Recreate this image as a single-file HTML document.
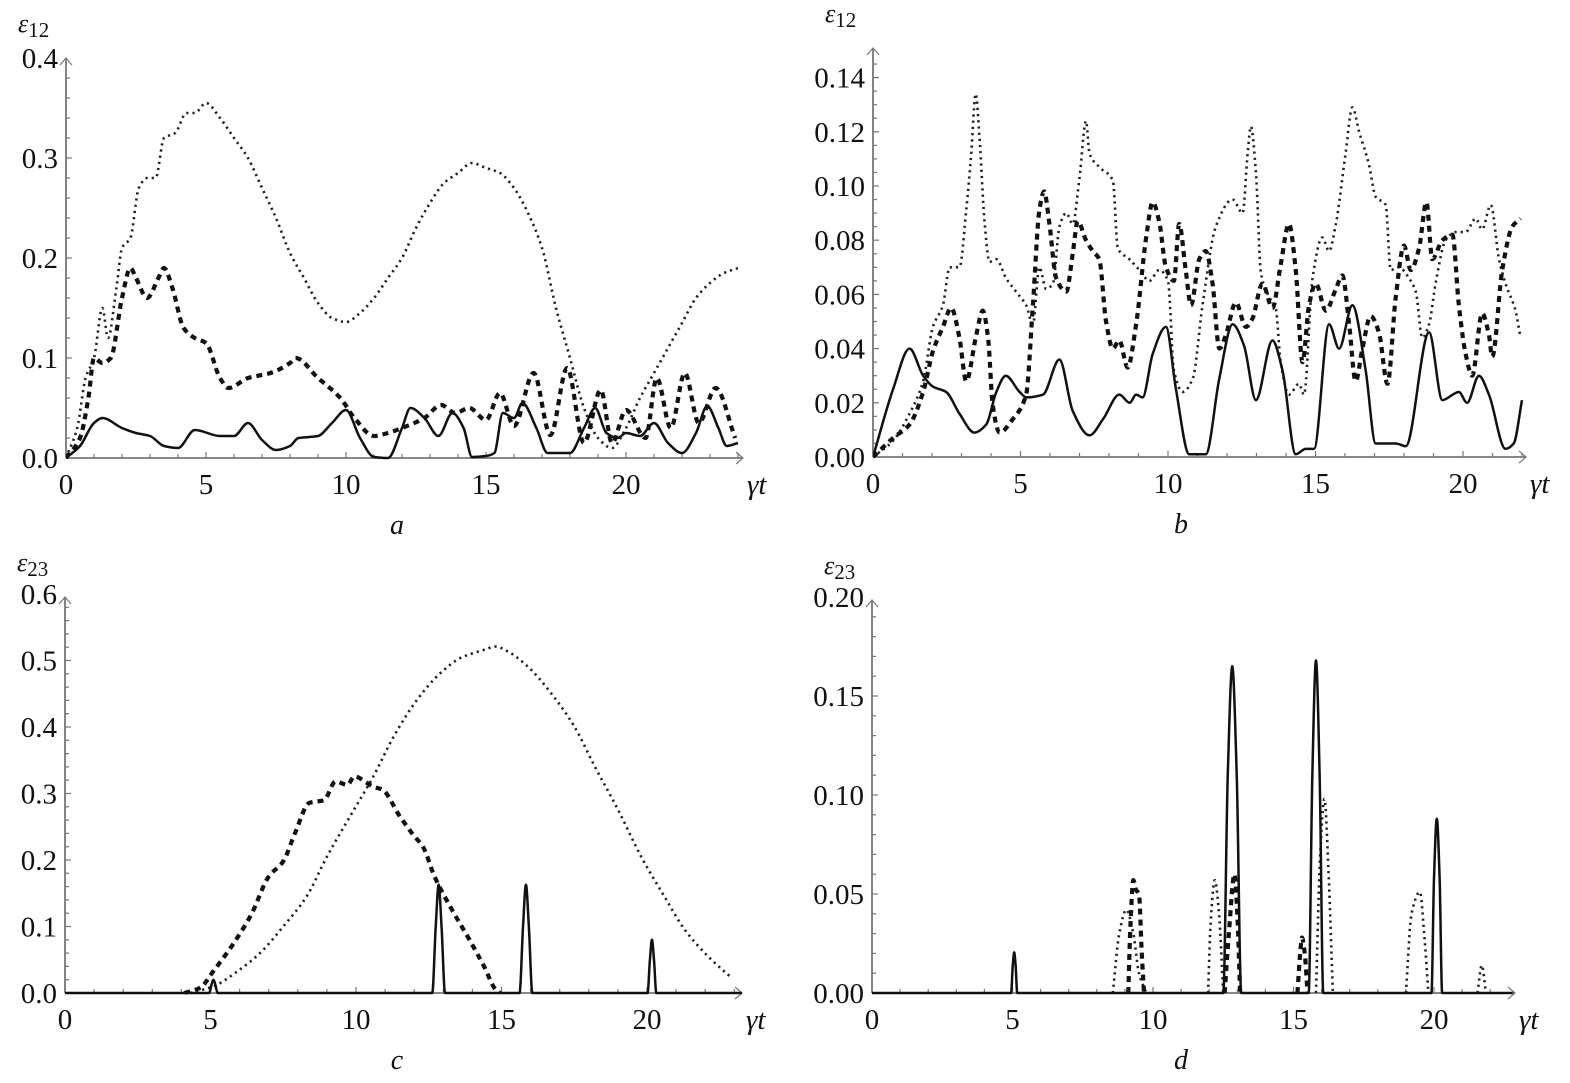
<!DOCTYPE html>
<html><head><meta charset="utf-8">
<style>
html,body{margin:0;padding:0;background:#fff;}
svg{display:block;}
text{font-family:"Liberation Serif",serif;fill:#111;}
</style></head>
<body>
<svg id="fig" width="1570" height="1083" viewBox="0 0 1570 1083" xmlns="http://www.w3.org/2000/svg"></svg>
<script>
// ---------- data (t, value) ----------
const aSolid=[[0,0],[0.5,0.012],[1,0.035],[1.3,0.04],[2,0.03],[2.5,0.025],[3,0.022],[3.5,0.012],[4,0.01],[4.6,0.028],[5.5,0.022],[6,0.022],[6.5,0.035],[7,0.018],[7.5,0.008],[8,0.012],[8.3,0.02],[8.7,0.021],[9,0.022],[9.5,0.035],[10,0.048],[10.5,0.02],[11,0.001],[11.5,0],[12,0.03],[12.3,0.05],[12.8,0.04],[13.3,0.022],[13.8,0.045],[14.2,0.03],[14.5,0.001],[15,0.002],[15.3,0.005],[15.6,0.045],[16,0.04],[16.3,0.055],[16.8,0.03],[17.2,0.005],[18,0.005],[18.5,0.03],[18.9,0.05],[19.3,0.025],[19.7,0.02],[20,0.025],[20.5,0.022],[21,0.035],[21.5,0.015],[22,0.005],[22.5,0.025],[22.9,0.052],[23.3,0.03],[23.6,0.012],[24,0.015]];
const aDashed=[[0,0],[0.5,0.02],[0.8,0.06],[1,0.1],[1.3,0.095],[1.6,0.1],[2,0.16],[2.3,0.19],[2.5,0.18],[2.9,0.16],[3.3,0.18],[3.5,0.19],[3.8,0.17],[4.2,0.13],[4.6,0.12],[5,0.115],[5.5,0.08],[5.8,0.07],[6.5,0.08],[7.3,0.085],[8,0.095],[8.2,0.1],[9,0.08],[9.8,0.06],[10.3,0.04],[11,0.022],[11.5,0.025],[12,0.03],[12.8,0.04],[13.4,0.053],[13.9,0.045],[14.4,0.05],[15,0.038],[15.5,0.065],[16,0.032],[16.7,0.085],[17.3,0.023],[17.9,0.09],[18.5,0.015],[19.1,0.068],[19.5,0.015],[20,0.048],[20.7,0.02],[21.1,0.08],[21.6,0.03],[22.1,0.085],[22.6,0.035],[23.2,0.07],[23.9,0.02]];
const aDotted=[[0,0],[0.4,0.03],[0.7,0.08],[1,0.1],[1.3,0.15],[1.5,0.12],[1.8,0.17],[2,0.21],[2.3,0.22],[2.6,0.27],[2.9,0.28],[3.2,0.28],[3.5,0.32],[3.9,0.325],[4.3,0.345],[4.6,0.345],[5,0.355],[5.5,0.34],[6,0.32],[6.5,0.3],[7,0.27],[7.5,0.24],[8,0.205],[8.5,0.18],[9,0.155],[9.5,0.14],[10,0.136],[10.5,0.145],[11,0.16],[11.5,0.18],[12,0.2],[12.5,0.23],[13,0.255],[13.5,0.275],[14,0.285],[14.5,0.295],[15,0.29],[15.5,0.285],[16,0.27],[16.5,0.245],[17,0.21],[17.5,0.15],[18,0.1],[18.5,0.05],[19,0.02],[19.5,0.01],[20,0.03],[20.5,0.06],[21,0.085],[21.5,0.11],[22,0.135],[22.5,0.16],[23,0.175],[23.5,0.185],[24,0.19]];

const bSolid=[[0,0],[0.68,0.025],[1.24,0.04],[1.7,0.03],[2.03,0.026],[2.48,0.024],[2.93,0.016],[3.44,0.009],[3.84,0.012],[4.18,0.024],[4.5,0.03],[4.97,0.024],[5.2,0.022],[5.76,0.023],[6.32,0.036],[6.77,0.017],[7.34,0.008],[7.8,0.014],[8.35,0.023],[8.7,0.02],[8.92,0.023],[9.14,0.022],[9.48,0.038],[9.93,0.048],[10.27,0.025],[10.72,0.001],[11.28,0.001],[11.74,0.029],[12.19,0.049],[12.58,0.041],[12.98,0.021],[13.54,0.043],[13.88,0.032],[14.33,0.001],[14.67,0.003],[14.95,0.003],[15.46,0.049],[15.8,0.04],[16.25,0.056],[16.7,0.032],[17.04,0.005],[17.72,0.005],[18.06,0.004],[18.85,0.046],[19.3,0.021],[19.86,0.024],[20.14,0.02],[20.54,0.03],[20.88,0.023],[21.44,0.003],[21.72,0.005],[22,0.021]];
const bDashed=[[0,0],[0.68,0.007],[1.24,0.012],[1.7,0.024],[2.03,0.039],[2.37,0.048],[2.65,0.055],[2.93,0.044],[3.16,0.028],[3.5,0.045],[3.72,0.054],[3.9,0.044],[4.06,0.019],[4.29,0.009],[4.74,0.014],[5.19,0.023],[5.42,0.056],[5.64,0.091],[5.8,0.098],[5.98,0.086],[6.21,0.066],[6.55,0.061],[6.77,0.075],[6.94,0.087],[7.22,0.08],[7.45,0.076],[7.67,0.073],[7.9,0.05],[8.13,0.04],[8.35,0.043],[8.63,0.033],[8.92,0.049],[9.26,0.081],[9.48,0.094],[9.7,0.087],[9.93,0.07],[10.2,0.065],[10.38,0.086],[10.6,0.069],[10.78,0.056],[11.06,0.073],[11.28,0.076],[11.51,0.064],[11.74,0.04],[11.96,0.045],[12.3,0.057],[12.64,0.048],[12.86,0.051],[13.2,0.064],[13.54,0.055],[13.82,0.071],[14.1,0.086],[14.33,0.069],[14.56,0.035],[14.78,0.056],[15.01,0.064],[15.35,0.054],[15.69,0.062],[15.91,0.067],[16.14,0.049],[16.36,0.028],[16.59,0.04],[16.87,0.052],[17.15,0.046],[17.44,0.027],[17.72,0.059],[18,0.078],[18.23,0.069],[18.51,0.077],[18.76,0.094],[18.96,0.073],[19.3,0.08],[19.64,0.082],[19.86,0.056],[20.09,0.038],[20.31,0.03],[20.65,0.053],[20.88,0.045],[20.99,0.037],[21.33,0.069],[21.67,0.085],[21.95,0.088]];
const bDotted=[[0,0],[0.68,0.006],[1.24,0.016],[1.7,0.028],[2.03,0.048],[2.37,0.056],[2.6,0.07],[2.93,0.07],[3.16,0.091],[3.33,0.112],[3.48,0.134],[3.61,0.118],[3.78,0.087],[3.95,0.072],[4.18,0.073],[4.51,0.066],[4.85,0.061],[5.19,0.056],[5.42,0.049],[5.64,0.07],[5.87,0.062],[6.1,0.064],[6.32,0.085],[6.55,0.09],[6.77,0.086],[7,0.103],[7.22,0.124],[7.34,0.112],[7.67,0.107],[8.13,0.102],[8.3,0.077],[8.69,0.073],[9.03,0.069],[9.37,0.065],[9.7,0.069],[10,0.065],[10.2,0.032],[10.5,0.024],[10.84,0.029],[11.17,0.056],[11.62,0.085],[12.19,0.095],[12.53,0.09],[12.7,0.112],[12.81,0.122],[12.98,0.105],[13.15,0.068],[13.43,0.059],[13.65,0.055],[13.82,0.035],[14.1,0.023],[14.44,0.027],[14.61,0.023],[14.9,0.066],[15.23,0.081],[15.46,0.076],[15.69,0.086],[16.02,0.112],[16.25,0.129],[16.48,0.12],[16.81,0.108],[17.04,0.096],[17.38,0.093],[17.55,0.069],[17.83,0.07],[18.17,0.066],[18.4,0.061],[18.62,0.044],[18.85,0.049],[19.07,0.064],[19.41,0.08],[19.75,0.083],[20.09,0.083],[20.43,0.088],[20.65,0.084],[20.94,0.093],[21.22,0.073],[21.44,0.064],[21.78,0.054],[21.95,0.044]];

const cSolid=[[0,0],[4.95,0],[5.05,0.015],[5.1,0.02],[5.15,0.015],[5.25,0],[12.62,0],[12.74,0.1],[12.84,0.163],[12.94,0.1],[13.06,0],[15.62,0],[15.74,0.1],[15.84,0.163],[15.94,0.1],[16.06,0],[20.02,0],[20.1,0.05],[20.17,0.08],[20.24,0.05],[20.32,0],[23.3,0]];
const cDashed=[[4.1,0],[4.65,0.008],[5.1,0.033],[5.8,0.075],[6.4,0.118],[7,0.175],[7.5,0.198],[7.9,0.24],[8.4,0.286],[8.9,0.29],[9.3,0.318],[9.7,0.313],[9.95,0.326],[10.3,0.318],[10.6,0.31],[10.9,0.306],[11.5,0.266],[12,0.236],[12.3,0.22],[12.7,0.175],[13.3,0.125],[13.9,0.08],[14.4,0.04],[14.8,0.005],[14.95,0]];
const cDotted=[[4.3,0],[5.1,0.01],[6,0.035],[6.7,0.06],[7.5,0.1],[8.3,0.145],[9,0.205],[9.8,0.266],[10.6,0.326],[11.3,0.386],[12.1,0.441],[12.9,0.481],[13.6,0.504],[14.4,0.516],[14.8,0.521],[15.2,0.514],[15.9,0.491],[16.7,0.451],[17.5,0.401],[18.2,0.341],[19,0.276],[19.8,0.205],[20.6,0.145],[21.3,0.095],[22.1,0.055],[22.9,0.023]];

const dSolid=[[0,0],[4.95,0],[5.01,0.014],[5.06,0.0205],[5.11,0.014],[5.17,0],[12.5,0],[12.66,0.11],[12.82,0.165],[12.98,0.11],[13.14,0],[15.54,0],[15.67,0.11],[15.8,0.168],[15.93,0.11],[16.06,0],[19.91,0],[20.0,0.058],[20.1,0.088],[20.2,0.058],[20.29,0],[22.8,0]];
const dDashed=[[[9.12,0],[9.2,0.035],[9.3,0.057],[9.4,0.052],[9.5,0.05],[9.6,0.02],[9.68,0]],[[12.55,0],[12.7,0.03],[12.9,0.06],[13.0,0.04],[13.1,0]],[[15.14,0],[15.25,0.022],[15.3,0.028],[15.4,0.02],[15.5,0]]];
const dDotted=[[[8.57,0],[8.8,0.03],[9.05,0.042],[9.3,0.03],[9.5,0.01],[9.76,0]],[[11.96,0],[12.05,0.035],[12.2,0.057],[12.35,0.04],[12.5,0]],[[15.8,0],[15.95,0.07],[16.1,0.098],[16.25,0.06],[16.4,0]],[[19.0,0],[19.2,0.04],[19.5,0.051],[19.65,0.03],[19.8,0]],[[21.55,0],[21.7,0.014],[21.85,0]]];

const xTickLabels=["0","5","10","15","20"];
const aYTicks=["0.0","0.1","0.2","0.3","0.4"];
const bYTicks=["0.00","0.02","0.04","0.06","0.08","0.10","0.12","0.14"];
const cYTicks=["0.0","0.1","0.2","0.3","0.4","0.5","0.6"];
const dYTicks=["0.00","0.05","0.10","0.15","0.20"];

// ---------- rendering ----------
const NS="http://www.w3.org/2000/svg";
const svg=document.getElementById('fig');
function mk(tag,attrs,parent){const e=document.createElementNS(NS,tag);for(const k in attrs)e.setAttribute(k,attrs[k]);(parent||svg).appendChild(e);return e;}
// monotone cubic (no loops / overshoot)
function smooth(pts){
  const n=pts.length;
  if(n<2)return '';
  const h=[],d=[];
  for(let i=0;i<n-1;i++){h[i]=pts[i+1][0]-pts[i][0];d[i]=h[i]?(pts[i+1][1]-pts[i][1])/h[i]:0;}
  const m=[];
  m[0]=d[0];m[n-1]=d[n-2];
  for(let i=1;i<n-1;i++){
    if(d[i-1]*d[i]<=0)m[i]=0;
    else m[i]=3*(h[i-1]+h[i])/((2*h[i]+h[i-1])/d[i-1]+(h[i]+2*h[i-1])/d[i]);
  }
  let s='M'+pts[0][0].toFixed(2)+','+pts[0][1].toFixed(2);
  for(let i=0;i<n-1;i++){
    const p1=pts[i],p2=pts[i+1],dx=h[i]/3;
    s+=' C'+(p1[0]+dx).toFixed(2)+','+(p1[1]+m[i]*dx).toFixed(2)+' '+(p2[0]-dx).toFixed(2)+','+(p2[1]-m[i+1]*dx).toFixed(2)+' '+p2[0].toFixed(2)+','+p2[1].toFixed(2);
  }
  return s;
}
const styles={
  solid:{stroke:'#111','stroke-width':2.5,fill:'none'},
  dashed:{stroke:'#111','stroke-width':4.2,'stroke-dasharray':'6 5',fill:'none'},
  dotted:{stroke:'#222','stroke-width':2.6,'stroke-dasharray':'2.2 4',fill:'none'}
};
function panel(cfg){
  const g=mk('g',{});
  
  
  const X=t=>cfg.x0+t*cfg.xs, Y=v=>cfg.y0-v*cfg.ys;
  const ax=mk('g',{stroke:'#777','stroke-width':1.8,fill:'none'},g);
  
  
  mk('line',{x1:cfg.x0,y1:cfg.y0,x2:cfg.xEnd,y2:cfg.y0},ax);
  mk('line',{x1:cfg.x0,y1:cfg.y0,x2:cfg.x0,y2:cfg.yTop},ax);
  mk('path',{d:`M${cfg.xEnd-7},${cfg.y0-6} L${cfg.xEnd},${cfg.y0} L${cfg.xEnd-7},${cfg.y0+6}`,'stroke-width':1.2},ax);
  mk('path',{d:`M${cfg.x0-6},${cfg.yTop+7} L${cfg.x0},${cfg.yTop} L${cfg.x0+6},${cfg.yTop+7}`,'stroke-width':1.2},ax);
  const tmax=(cfg.xEnd-cfg.x0-4)/cfg.xs;
  for(let t=1;t<=tmax;t++){const L=t%5===0?6:4;mk('line',{x1:X(t),y1:cfg.y0,x2:X(t),y2:cfg.y0-L,'stroke-width':1.2},ax);}
  const vmax=(cfg.y0-cfg.yTop-4)/cfg.ys;
  for(let k=1;k*cfg.minor<=vmax+1e-9;k++){const v=k*cfg.minor;const major=Math.abs(v/cfg.major-Math.round(v/cfg.major))<1e-6;mk('line',{x1:cfg.x0,y1:Y(v),x2:cfg.x0+(major?6:4),y2:Y(v),'stroke-width':1.2},ax);}
  xTickLabels.forEach(s=>{const t=+s;const e=mk('text',{x:X(t),y:cfg.y0+36,'font-size':29,'text-anchor':'middle'},g);e.textContent=s;
    });
  cfg.yTicks.forEach(s=>{const v=+s;const e=mk('text',{x:cfg.x0-8,y:Y(v)+10,'font-size':29,'text-anchor':'end'},g);e.textContent=s;
    });
  const xt=mk('text',{x:cfg.xEnd+4,y:cfg.y0+36,'font-size':29,'font-style':'italic'},g);xt.textContent='γt';
  
  const yt=mk('text',{x:cfg.x0-48,y:cfg.yTop-26,'font-size':26,'font-style':'italic'},g);yt.textContent='ε';
  const sub=mk('tspan',{'font-size':21,'font-style':'normal',dy:5},yt);sub.textContent=cfg.ylab;
  
  const pl=mk('text',{x:cfg.labelX,y:cfg.y0+76,'font-size':28,'font-style':'italic','text-anchor':'middle'},g);pl.textContent=cfg.id;
  
  const cp=mk('clipPath',{id:'clip'+cfg.id},g);
  mk('rect',{x:cfg.x0,y:cfg.yTop-20,width:cfg.xEnd-cfg.x0,height:cfg.y0-cfg.yTop+21.5},cp);
  const lines=mk('g',{'clip-path':`url(#clip${cfg.id})`},g);
  cfg.series.forEach(([name,style,segs])=>{
    segs.forEach(seg=>{
      const p=mk('path',Object.assign({d:smooth(seg.map(([t,v])=>[X(t),Y(v)]))},styles[style]),lines);
      
      
    });
  });
}
panel({id:'a',x0:66,xs:28,y0:458,ys:1000,xEnd:743,yTop:58,major:0.1,minor:0.02,yTicks:aYTicks,ylab:'12',labelX:397,
  series:[['dotted-series','dotted',[aDotted]],['dashed-series','dashed',[aDashed]],['solid-series','solid',[aSolid]]]});
panel({id:'b',x0:873,xs:29.5,y0:457,ys:2710,xEnd:1526,yTop:48,major:0.02,minor:0.005,yTicks:bYTicks,ylab:'12',labelX:1181,
  series:[['dotted-series','dotted',[bDotted]],['dashed-series','dashed',[bDashed]],['solid-series','solid',[bSolid]]]});
panel({id:'c',x0:65,xs:29.1,y0:993,ys:665,xEnd:742,yTop:597,major:0.1,minor:0.02,yTicks:cYTicks,ylab:'23',labelX:397,
  series:[['dotted-series','dotted',[cDotted]],['dashed-series','dashed',[cDashed]],['solid-series','solid',[cSolid]]]});
panel({id:'d',x0:872,xs:28.1,y0:993,ys:1980,xEnd:1515,yTop:600,major:0.05,minor:0.01,yTicks:dYTicks,ylab:'23',labelX:1181,
  series:[['dotted-series','dotted',dDotted],['dashed-series','dashed',dDashed],['solid-series','solid',[dSolid]]]});
</script>
</body></html>
